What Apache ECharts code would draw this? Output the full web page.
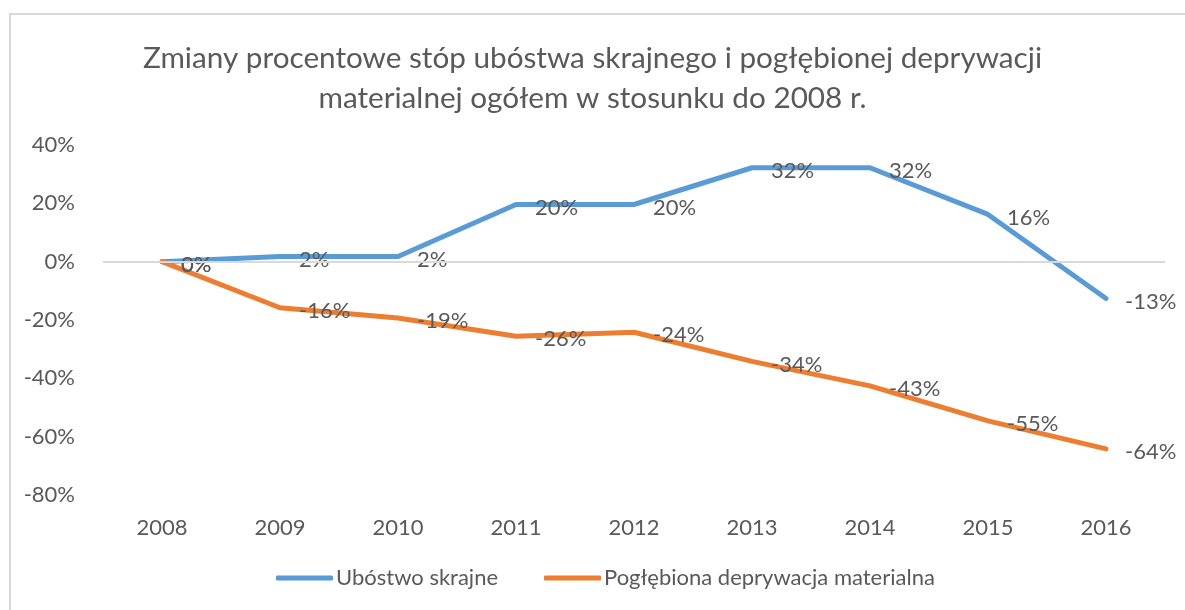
<!DOCTYPE html>
<html>
<head>
<meta charset="utf-8">
<script src="https://cdn.jsdelivr.net/npm/echarts@6/dist/echarts.min.js"></script>
<style>
  html, body { margin: 0; padding: 0; background: #fff; }
  #chart { width: 1185px; height: 610px; }
</style>
</head>
<body>
<div id="chart"></div>
<script>
var years = ['2008', '2009', '2010', '2011', '2012', '2013', '2014', '2015', '2016'];
// values in %
var ubostwo = [0, 1.8, 1.8, 19.6, 19.6, 32.2, 32.2, 16.2, -12.6];
var deprywacja = [0, -15.8, -19.3, -25.6, -24.2, -34.2, -42.6, -54.6, -64.2];
var seriesNames = ['Ubóstwo skrajne', 'Pogłębiona deprywacja materialna'];
var yTicks = { min: -80, max: 40, step: 20 };

var font = 'Lato';
var txt = '#595959';

var myChart = echarts.init(document.getElementById('chart'));

function lineSeries(name, data, color) {
	return {
		name: name,
		type: 'line',
		data: data,
		symbol: 'circle',
		symbolSize: 0.1,
		showSymbol: true,
		lineStyle: { color: color, width: 5, cap: 'round', join: 'round' },
		itemStyle: { color: color },
		label: {
			show: true,
			position: 'right',
			distance: 19,
			offset: [0, 3],
			color: txt,
			fontFamily: font,
			fontSize: 22,
			formatter: function(p){ return Math.round(p.value) + '%'; }
		}
	};
}

var s1 = lineSeries(seriesNames[0], ubostwo, '#5B9BD5');
var s2 = lineSeries(seriesNames[1], deprywacja, '#ED7D31');
// the grey zero line
s1.markLine = {
	silent: true,
	symbol: 'none',
	label: { show: false },
	lineStyle: { color: '#D9D9D9', width: 2, type: 'solid' },
	data: [{ yAxis: 0 }]
};

myChart.setOption({
	animation: false,
	textStyle: { fontFamily: font },
	graphic: [{
		type: 'rect',
		shape: { x: 10, y: 14, width: 1190, height: 620 },
		style: { fill: 'none', stroke: '#D9D9D9', lineWidth: 2 },
		silent: true
	}],
	title: {
		text: 'Zmiany procentowe stóp ubóstwa skrajnego i pogłębionej deprywacji\nmaterialnej ogółem w stosunku do 2008 r.',
		left: 'center',
		top: 33,
		textStyle: { color: txt, fontSize: 29.7, fontWeight: 'normal', fontFamily: font, lineHeight: 40 }
	},
	legend: {
		bottom: 16,
		left: 271,
		icon: 'roundRect',
		itemWidth: 57,
		itemHeight: 5,
		itemGap: 46,
		textStyle: { color: txt, fontSize: 22, fontFamily: font, padding: [0, 0, 0, -2] },
		data: seriesNames
	},
	grid: { left: 103, right: 20, top: 145, bottom: 115 },
	xAxis: {
		type: 'category',
		data: years,
		boundaryGap: true,
		axisLine: { show: false },
		axisTick: { show: false },
		axisLabel: { color: txt, fontSize: 22, fontFamily: font, margin: 22 }
	},
	yAxis: {
		type: 'value',
		min: yTicks.min,
		max: yTicks.max,
		interval: yTicks.step,
		axisLine: { show: false },
		axisTick: { show: false },
		splitLine: { show: false },
		axisLabel: { color: txt, fontSize: 22, fontFamily: font, margin: 28, formatter: '{value}%' }
	},
	series: [s1, s2]
});
</script>
</body>
</html>
